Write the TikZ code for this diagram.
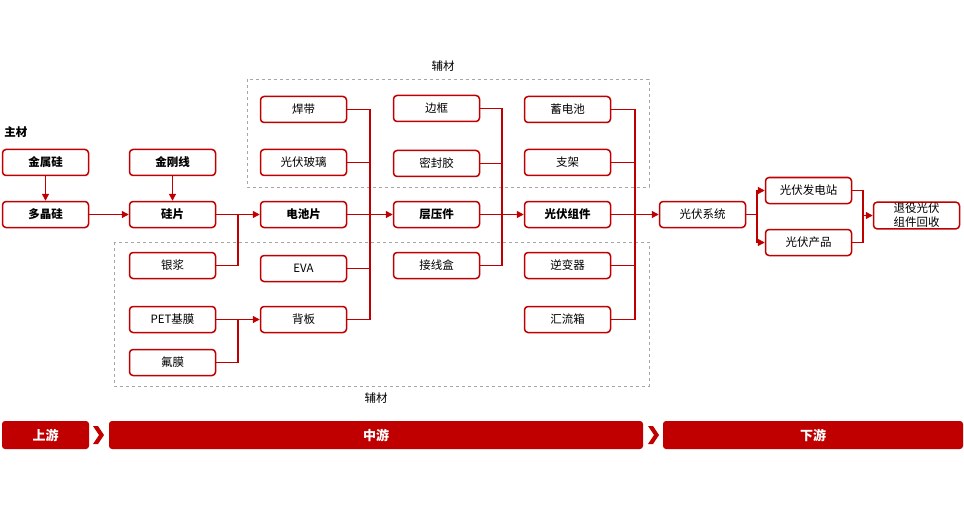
\documentclass[tikz,border=0pt]{standalone}
\usepackage{fontspec}
\setmainfont{Noto Sans CJK SC}
\usetikzlibrary{arrows.meta}

\definecolor{chainred}{RGB}{192,0,0}

\tikzset{
  item/.style={draw=chainred, line width=1.5pt, rounded corners=3.5pt, fill=white,
    minimum width=86pt, minimum height=26pt, inner sep=1pt, align=center,
    font=\fontsize{11.5}{14}\selectfont},
  mainitem/.style={item, font=\fontsize{11.5}{14}\selectfont\bfseries},
  link/.style={draw=chainred, line width=1.3pt},
  flow/.style={link, -{Triangle[length=7pt,width=7pt]}},
  auxframe/.style={draw=gray!70, dashed, line width=0.9pt},
  stage/.style={fill=chainred, rounded corners=3pt},
  stagetext/.style={text=white, font=\fontsize{13}{14}\selectfont\bfseries},
}

\begin{document}
\begin{tikzpicture}[x=1pt, y=-1pt]

\useasboundingbox (0,0) rectangle (964,508);

% Auxiliary frames
\draw [auxframe] (247,79) rectangle (649,187);
    \node (auxtop) at (443,66) {\fontsize{11.5}{13}\selectfont 辅材};
\draw [auxframe] (114,242) rectangle (649,386);
    \node (auxbot) at (376,398) {\fontsize{11.5}{13}\selectfont 辅材};

\node (mainlabel) at (16,132) {\fontsize{11.5}{13}\selectfont\bfseries 主材};

%Main chain
\node [mainitem] (jinshugui) at (45.5,162.5) {金属硅};
\node [mainitem] (duojinggui) at (45.5,214.5) {多晶硅};
\node [mainitem] (jingangxian) at (172.5,162.5) {金刚线};
\node [mainitem] (guipian) at (172.5,214.5) {硅片};
\node [mainitem] (dianchipian) at (303.5,214.5) {电池片};
\node [mainitem] (cengyajian) at (436.5,214.5) {层压件};
\node [mainitem] (zujian) at (567.5,214.5) {光伏组件};
\node [item] (xitong) at (702.5,214.5) {光伏系统};
\node [item] (dianzhan) at (808.5,190.5) {光伏发电站};
\node [item] (chanpin) at (808.5,242.5) {光伏产品};
\node [item] (huishou) at (916.5,215.5) {退役光伏\\组件回收};

%Upper auxiliaries
\node [item] (handai) at (303.5,109.5) {焊带};
\node [item] (boli) at (303.5,162.5) {光伏玻璃};
\node [item] (biankuang) at (436.5,108.5) {边框};
\node [item] (mifengjiao) at (436.5,163.5) {密封胶};
\node [item] (xudianchi) at (567.5,109.5) {蓄电池};
\node [item] (zhijia) at (567.5,162.5) {支架};

%Lower auxiliaries
\node [item] (yinjiang) at (172.5,265.5) {银浆};
\node [item] (petmo) at (172.5,319.5) {PET基膜};
\node [item] (fumo) at (172.5,362.5) {氟膜};
\node [item] (eva) at (303.5,268.5) {EVA};
\node [item] (beiban) at (303.5,319.5) {背板};
\node [item] (jiexianhe) at (436.5,265.5) {接线盒};
\node [item] (nibianqi) at (567.5,265.5) {逆变器};
\node [item] (huiliuxiang) at (567.5,319.5) {汇流箱};

% Junctions
\coordinate (jguipian) at (238,214.5);
\coordinate (jbeiban) at (238,319.5);
\coordinate (jdianchi) at (370,214.5);
\coordinate (jcengya) at (502,214.5);
\coordinate (jzujian) at (635,214.5);
\coordinate (jxitong) at (757,214.5);
\coordinate (jhuishou) at (863,215.5);

% Connectors
\draw [flow] (jinshugui) -- (duojinggui);
\draw [flow] (jingangxian) -- (guipian);
\draw [flow] (duojinggui) -- (guipian);
\draw [flow] (guipian) -- (dianchipian);
\draw [flow] (dianchipian) -- (cengyajian);
\draw [flow] (cengyajian) -- (zujian);
\draw [flow] (zujian) -- (xitong);

\draw [link] (yinjiang.east) -| (jguipian);

\draw [flow] (petmo) -- (beiban);
\draw [link] (fumo.east) -| (jbeiban);

\draw [link] (handai.east) -| (jdianchi);
\draw [link] (boli.east) -| (jdianchi);
\draw [link] (eva.east) -| (jdianchi);
\draw [link] (beiban.east) -| (jdianchi);

\draw [link] (biankuang.east) -| (jcengya);
\draw [link] (mifengjiao.east) -| (jcengya);
\draw [link] (jiexianhe.east) -| (jcengya);

\draw [link] (xudianchi.east) -| (jzujian);
\draw [link] (zhijia.east) -| (jzujian);
\draw [link] (nibianqi.east) -| (jzujian);
\draw [link] (huiliuxiang.east) -| (jzujian);

\draw [link] (xitong.east) -- (jxitong);
\draw [flow] (jxitong) |- (dianzhan.west);
\draw [flow] (jxitong) |- (chanpin.west);

\draw [link] (dianzhan.east) -| (jhuishou);
\draw [link] (chanpin.east) -| (jhuishou);
\draw [flow] (jhuishou) -- (huishou.west);

% Stages
\fill [stage] (2,421) rectangle (89,449);
    \node [stagetext] (shangyou) at (45.5,435) {上游};
\fill [chainred] (93,426) -- (98,426) -- (104,435) -- (98,444) -- (93,444) -- (99,435) -- cycle;
\fill [stage] (109,421) rectangle (643,449);
    \node [stagetext] (zhongyou) at (376,435) {中游};
\fill [chainred] (648,426) -- (653,426) -- (659,435) -- (653,444) -- (648,444) -- (654,435) -- cycle;
\fill [stage] (663,421) rectangle (963,449);
    \node [stagetext] (xiayou) at (813,435) {下游};

\end{tikzpicture}
\end{document}
